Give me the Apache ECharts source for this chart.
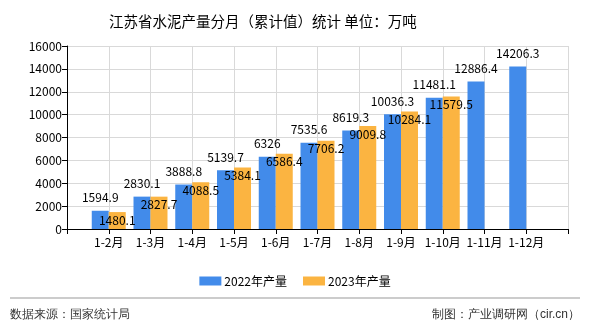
<!DOCTYPE html>
<html>
<head>
<meta charset="utf-8">
<script src="https://cdn.jsdelivr.net/npm/echarts@6/dist/echarts.min.js"></script>
<style>html,body{margin:0;padding:0;background:#fff;}#c{width:590px;height:330px;}</style>
</head>
<body>
<div id="c"></div>
<script>
var categories = ['1-2月','1-3月','1-4月','1-5月','1-6月','1-7月','1-8月','1-9月','1-10月','1-11月','1-12月'];
var values2022 = [1594.9, 2830.1, 3888.8, 5139.7, 6326, 7535.6, 8619.3, 10036.3, 11481.1, 12886.4, 14206.3];
var values2023 = [1480.1, 2827.7, 4088.5, 5384.1, 6586.4, 7706.2, 9009.8, 10284.1, 11579.5, null, null];
var yTicks = [0, 2000, 4000, 6000, 8000, 10000, 12000, 14000, 16000];
var seriesNames = ['2022年产量', '2023年产量'];

var FONT = '"Noto Sans CJK SC", sans-serif';
var axisCats = [''].concat(categories, ['']);
var s1 = [null].concat(values2022, [null]);
var s2 = [null].concat(values2023, [null]);

var chart = echarts.init(document.getElementById('c'), null, {renderer: 'canvas'});
chart.setOption({
  animation: false,
  textStyle: {fontFamily: FONT},
  title: {
    text: '江苏省水泥产量分月（累计值）统计 单位：万吨',
    left: 104, top: 9,
    textStyle: {fontSize: 14.5, fontWeight: 'normal', color: '#000', fontFamily: FONT}
  },
  grid: {left: 67, right: 22, top: 46, bottom: 101, containLabel: false},
  legend: {
    data: seriesNames,
    top: 270, left: 'center',
    itemWidth: 22, itemHeight: 9, itemGap: 16,
    icon: 'rect',
    textStyle: {fontSize: 12, color: '#000', fontFamily: FONT, padding: [0, 0, 0, -2]}
  },
  xAxis: {
    type: 'category',
    data: axisCats,
    boundaryGap: false,
    axisLine: {lineStyle: {color: '#000', width: 1}},
    axisTick: {show: true, length: 5, lineStyle: {color: '#000'}},
    axisLabel: {color: '#000', fontSize: 12, interval: 0, margin: 7, fontFamily: FONT},
    splitLine: {show: true, lineStyle: {color: '#d9d9d9'}}
  },
  yAxis: {
    type: 'value',
    min: yTicks[0], max: yTicks[yTicks.length - 1], interval: yTicks[1] - yTicks[0],
    axisLine: {show: true, lineStyle: {color: '#000', width: 1}},
    axisTick: {show: true, length: 5, lineStyle: {color: '#000'}},
    axisLabel: {color: '#000', fontSize: 12, margin: 5, fontFamily: FONT, formatter: function (v) { return String(v); }},
    splitLine: {show: true, lineStyle: {color: '#d9d9d9'}}
  },
  series: [
    {
      name: seriesNames[0], type: 'bar', data: s1,
      barWidth: 17, barGap: '0%',
      itemStyle: {color: '#428bea'},
      label: {show: true, position: 'top', distance: 7, color: '#000', fontSize: 12, fontFamily: FONT}
    },
    {
      name: seriesNames[1], type: 'bar', data: s2,
      barWidth: 17, barGap: '0%',
      itemStyle: {color: '#fbb441'},
      label: {show: true, position: 'insideTop', distance: 2, color: '#000', fontSize: 12, fontFamily: FONT}
    }
  ],
  graphic: [
    {type: 'line', shape: {x1: 10, y1: 298, x2: 580, y2: 298}, style: {stroke: '#999', lineWidth: 1}},
    {type: 'text', left: 10, top: 309, style: {text: '数据来源：国家统计局', fontSize: 12, fill: '#333', font: '12px ' + FONT}},
    {type: 'text', right: 10, top: 309, style: {text: '制图：产业调研网（cir.cn）', fontSize: 12, fill: '#333', font: '12px ' + FONT}}
  ]
});
</script>
</body>
</html>
